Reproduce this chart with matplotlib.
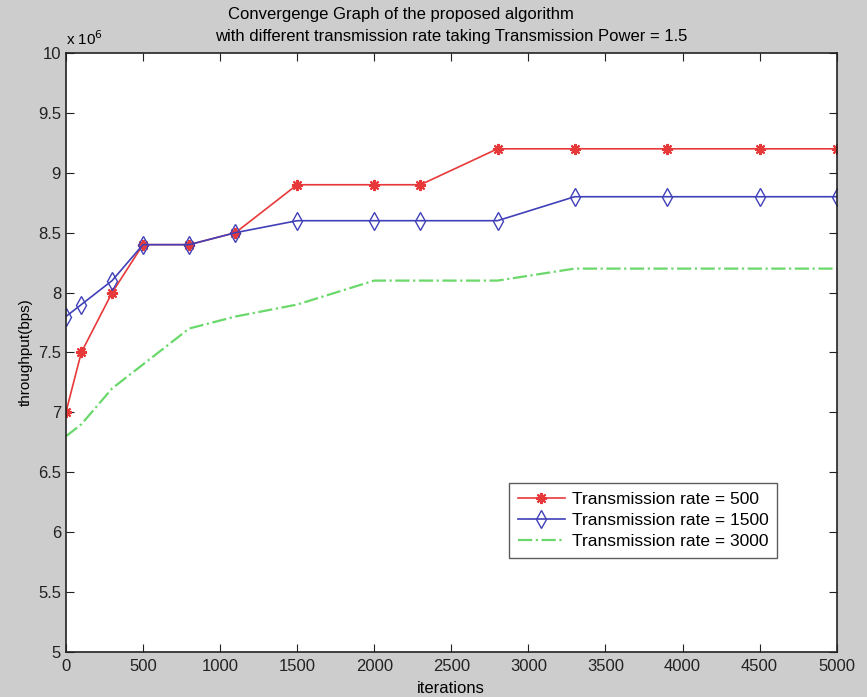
import matplotlib
matplotlib.use("Agg")
import matplotlib.pyplot as plt
import numpy as np

# iterations at which each curve was sampled
iterations = [0, 100, 300, 500, 800, 1100, 1500, 2000, 2300, 2800, 3300, 3900, 4500, 5000]

# throughput in units of 1e6 bps
rate_500 = [7.0, 7.5, 8.0, 8.4, 8.4, 8.5, 8.9, 8.9, 8.9, 9.2, 9.2, 9.2, 9.2, 9.2]
rate_1500 = [7.8, 7.9, 8.1, 8.4, 8.4, 8.5, 8.6, 8.6, 8.6, 8.6, 8.8, 8.8, 8.8, 8.8]
rate_3000 = [6.8, 6.9, 7.2, 7.4, 7.7, 7.8, 7.9, 8.1, 8.1, 8.1, 8.2, 8.2, 8.2, 8.2]

labels = ["Transmission rate = 500", "Transmission rate = 1500", "Transmission rate = 3000"]

plt.rcParams["font.family"] = ["Liberation Sans", "DejaVu Sans"]

fig = plt.figure(figsize=(8.67, 6.97), dpi=100, facecolor="#cdcdcd")
ax = fig.add_axes((0.076, 0.0646, 0.889, 0.8594))
ax.set_facecolor("white")

scale = 1e6
x = np.array(iterations)
ax.plot(x, np.array(rate_500) * scale, color="#e8393a", marker=(8, 2, 0), markersize=8,
        markeredgewidth=1.5, linewidth=1.2, label=labels[0])
ax.plot(x, np.array(rate_1500) * scale, color="#4040b8", marker="d", markersize=9,
        markerfacecolor="none", markeredgewidth=1.0, linewidth=1.2, label=labels[1])
ax.plot(x, np.array(rate_3000) * scale, color="#6ad86a", linestyle="-.",
        linewidth=1.6, label=labels[2])

ax.set_xlim(0, 5000)
ax.set_ylim(5e6, 10e6)
ax.set_xticks(np.arange(0, 5001, 500))
yt = np.arange(5, 10.01, 0.5)
ax.set_yticks(yt * scale)
ax.set_yticklabels([f"{v:g}" for v in yt])
ax.tick_params(direction="in", top=True, right=True, length=6, labelsize=12,
               colors="#222222")
ax.tick_params(axis="x", pad=5)
for s in ax.spines.values():
    s.set_linewidth(1.2)
    s.set_color("#222222")

ax.text(0.0, 1.008, r"x 10$^6$", transform=ax.transAxes, fontsize=11,
        ha="left", va="bottom")

ax.set_xlabel("iterations", fontsize=12, labelpad=5)
ax.set_ylabel("throughput(bps)", fontsize=11, labelpad=4)

# two title lines, second one offset to the right as in the original
fig.text(401 / 867, 1 - 15 / 697, "Convergenge Graph of the proposed algorithm",
         fontsize=12, ha="center", va="center")
fig.text(451 / 867, 1 - 37 / 697,
         "with different transmission rate taking Transmission Power = 1.5",
         fontsize=12, ha="center", va="center")

leg = ax.legend(loc="lower right", bbox_to_anchor=(0.923, 0.157), fontsize=12.5,
                frameon=True, fancybox=False, edgecolor="#333333",
                handlelength=2.7, borderpad=0.5, labelspacing=0.35,
                handletextpad=0.4, borderaxespad=0)
leg.get_frame().set_linewidth(1.0)

fig.savefig("out.png", dpi=100, facecolor=fig.get_facecolor())
